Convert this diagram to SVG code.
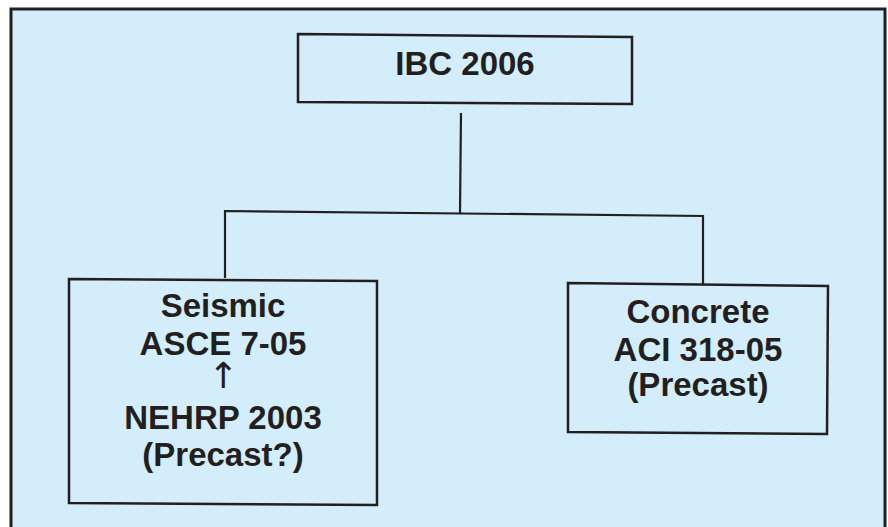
<svg xmlns="http://www.w3.org/2000/svg" width="888" height="527" viewBox="0 0 888 527">
<style>
.box{fill:none;stroke:#231f20;stroke-width:2.5}
.ln{fill:none;stroke:#231f20;stroke-width:2.2}
.t{font-family:"Liberation Sans",Arial,sans-serif;font-weight:bold;font-size:33px;fill:#231f20;text-anchor:middle}
.ar{font-family:"DejaVu Sans",sans-serif;font-size:36px;fill:#231f20;text-anchor:middle}
</style>
<rect x="0" y="0" width="888" height="527" fill="#ffffff"/>
<rect x="11" y="9" width="874" height="530" fill="#d3eefa" stroke="#231f20" stroke-width="3"/>
<g id="connectors">
<polyline class="ln" points="461,113 460,213"/>
<polyline class="ln" points="225,278 225,211 703,216 703,284"/>
</g>
<g id="ibc">
<polygon class="box" points="298,34 632,37 632,104 298,102"/>
<text class="t" x="465" y="75">IBC 2006</text>
</g>
<g id="seismic">
<polygon class="box" points="69,279 377,281 377,505 69,503"/>
<text class="t" x="223" y="317">Seismic</text>
<text class="t" x="223" y="355">ASCE 7-05</text>
<text class="ar" x="223" y="388">↑</text>
<text class="t" x="223" y="429">NEHRP 2003</text>
<text class="t" x="223" y="466">(Precast?)</text>
</g>
<g id="concrete">
<polygon class="box" points="568,283 828,286 827,434 568,432"/>
<text class="t" x="698" y="323">Concrete</text>
<text class="t" x="698" y="361">ACI 318-05</text>
<text class="t" x="698" y="396">(Precast)</text>
</g>
</svg>
